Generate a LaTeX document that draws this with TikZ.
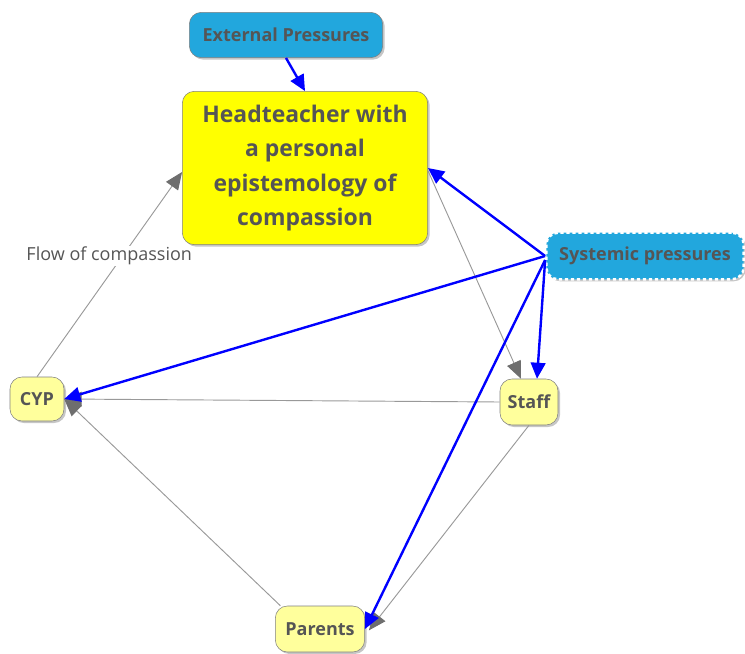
\documentclass[tikz,border=0pt]{standalone}
\usepackage{fontspec}
\setmainfont{Open Sans}
\usetikzlibrary{arrows.meta,shadows}

\definecolor{pressureblue}{HTML}{22A7DD}
\definecolor{headyellow}{HTML}{FFFF00}
\definecolor{groupyellow}{HTML}{FFFF9C}
\definecolor{textgray}{HTML}{555555}
\definecolor{linegray}{HTML}{999999}
\definecolor{tipgray}{HTML}{6E6E6E}

\begin{document}
\begin{tikzpicture}[x=0.75pt,y=-0.75pt,
    box/.style={rounded corners=9pt, draw=gray, text=textgray,
        font=\bfseries\fontsize{13.5}{16}\selectfont,
        drop shadow={opacity=0.45, shadow xshift=1.5pt, shadow yshift=-1.5pt}},
    group/.style={box, fill=groupyellow, inner sep=2pt},
    pressure/.style={box, fill=pressureblue, inner sep=2pt},
    flow/.style={draw=linegray, line width=0.7pt,
        -{Triangle[length=13pt,width=11pt,color=tipgray]}},
    push/.style={draw=blue, line width=1.8pt,
        -{Triangle[length=12pt,width=11pt]}}
]
    \useasboundingbox (0,0) rectangle (745,653);

    % concepts
    \node[box, fill=headyellow, minimum width=184pt, minimum height=115pt,
        align=center, font=\bfseries\fontsize{17.2}{25.8}\selectfont]
        (head) at (305,168) {\raisebox{-3pt}{\parbox{170pt}{\centering Headteacher with\\a personal\\epistemology of\\compassion}}};
    \node[pressure, minimum width=145pt, minimum height=34pt] (ext) at (286,35) {External Pressures};
    \node[pressure, draw=white, dashed, line width=1.8pt, dash pattern=on 2.5pt off 2pt,
        minimum width=148pt, minimum height=35pt] (sys) at (645,256) {Systemic pressures};
    \node[group, minimum width=40.5pt, minimum height=33pt] (cyp) at (37,399) {CYP};
    \node[group, minimum width=43.5pt, minimum height=34.5pt] (staff) at (529,402) {Staff};
    \node[group, minimum width=67pt, minimum height=34.5pt] (parents) at (320,629) {Parents};

    % flow of compassion
    \draw[flow] (cyp.north) -- ([yshift=-3pt]head.west)
        node[pos=0.59, xshift=-10pt, fill=white, inner sep=1pt, text=textgray,
            font=\fontsize{13.5}{16}\selectfont] {Flow of compassion};
    \draw[flow] ([yshift=-2pt]head.east) -- ([xshift=-6pt]staff.north);
    \draw[flow] (staff.west) -- (cyp.east);
    \draw[flow] ([xshift=4pt]parents.north west) -- (cyp.east);
    \draw[flow] (staff.south) -- ([xshift=3pt,yshift=-1pt]parents.east);

    % pressures
    \draw[push] (ext.south) -- (head.north);
    \draw[push] (sys.west) -- (head.east);
    \draw[push] (sys.west) -- (cyp.east);
    \draw[push] ([yshift=-3pt]sys.west) -- ([xshift=6pt]staff.north);
    \draw[push] ([yshift=-3pt]sys.west) -- (parents.east);
\end{tikzpicture}
\end{document}
